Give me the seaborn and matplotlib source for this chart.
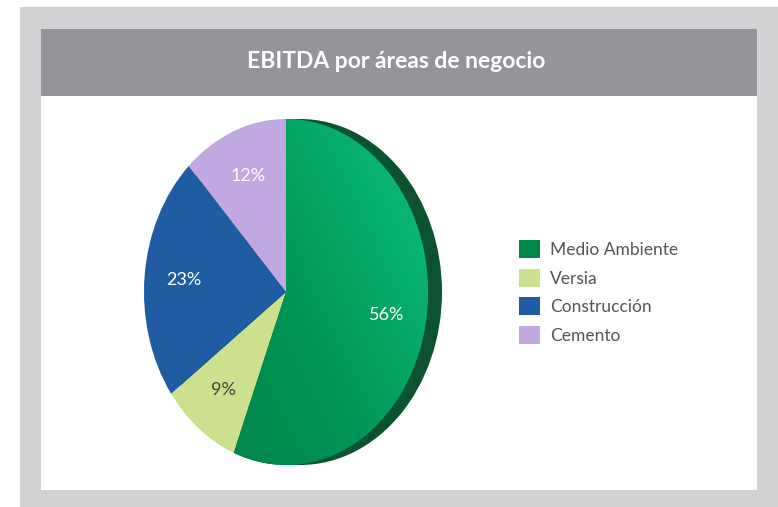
import matplotlib
matplotlib.use("Agg")
import matplotlib.pyplot as plt
import seaborn as sns
import numpy as np
from matplotlib.patches import Rectangle, Ellipse
from matplotlib.colors import LinearSegmentedColormap

# data
areas = ["Medio Ambiente", "Versia", "Construcción", "Cemento"]
ebitda_pct = [56, 9, 23, 12]
area_colors = ["#00874a", "#cde08e", "#1f5ca3", "#c1a8e0"]
label_colors = ["white", "#444444", "white", "white"]
title = "EBITDA por áreas de negocio"

sns.set_theme(style="white")
plt.rcParams["font.family"] = ["Lato", "DejaVu Sans"]

W, H = 778, 507
fig = plt.figure(figsize=(W / 100, H / 100), dpi=100)
fig.patch.set_facecolor("white")


def px_rect(x0, y0, x1, y1, color):
    # pixel box measured from top-left -> figure fraction rectangle
    fig.add_artist(Rectangle((x0 / W, 1 - y1 / H), (x1 - x0) / W, (y1 - y0) / H,
                             transform=fig.transFigure, facecolor=color,
                             edgecolor="none", zorder=0))


# frame, header and white panel
px_rect(20, 7, 778, 507, "#d1d2d4")
px_rect(41, 29, 757, 96, "#939598")
px_rect(41, 96, 757, 490, "white")
fig.text(396 / W, 1 - 61 / H, title, color="white", fontsize=16.5,
         fontweight="bold", ha="center", va="center")

# pie axes: centre at (286, 292) px, radius 142 px wide, 173 px tall
cx, cy, rx, ry = 286, 292, 142, 173
ax0, ax1, ay0, ay1 = 100, 480, 105, 480
ax = fig.add_axes([ax0 / W, 1 - ay1 / H, (ax1 - ax0) / W, (ay1 - ay0) / H])
ax.set_facecolor("none")

# side "thickness" of the disc
ax.add_patch(Ellipse((14 / rx, 0), 2, 2, facecolor="#0b5230", edgecolor="none", zorder=0))

wedges, texts, autotexts = ax.pie(
    ebitda_pct, colors=area_colors, startangle=90, counterclock=False,
    autopct="%d%%", pctdistance=0.72, wedgeprops=dict(linewidth=0),
    textprops=dict(fontsize=13))
for t, c in zip(autotexts, label_colors):
    t.set_color(c)
    t.set_zorder(5)

# soft gradient on the big green slice
green = LinearSegmentedColormap.from_list("g", ["#007d47", "#009557", "#0cc27a"])
yy, xx = np.mgrid[-1:1:200j, -1:1:200j]
grad = (xx + yy * 0.6)
im = ax.imshow(grad, extent=(-1, 1, -1, 1), origin="lower", cmap=green,
               aspect="auto", zorder=2)
im.set_clip_path(wedges[0])

ax.set_aspect("auto")
ax.set_xlim((ax0 - cx) / rx, (ax1 - cx) / rx)
ax.set_ylim((cy - ay1) / ry, (cy - ay0) / ry)
ax.axis("off")

fig.legend(wedges, areas, loc="center left", bbox_to_anchor=(519 / W, 1 - 292 / H),
           frameon=False, fontsize=12.5, labelcolor="#555555",
           handlelength=1.2, handleheight=1.2, handletextpad=0.6,
           labelspacing=0.62, borderpad=0, borderaxespad=0)

fig.savefig("out.png", dpi=100)
